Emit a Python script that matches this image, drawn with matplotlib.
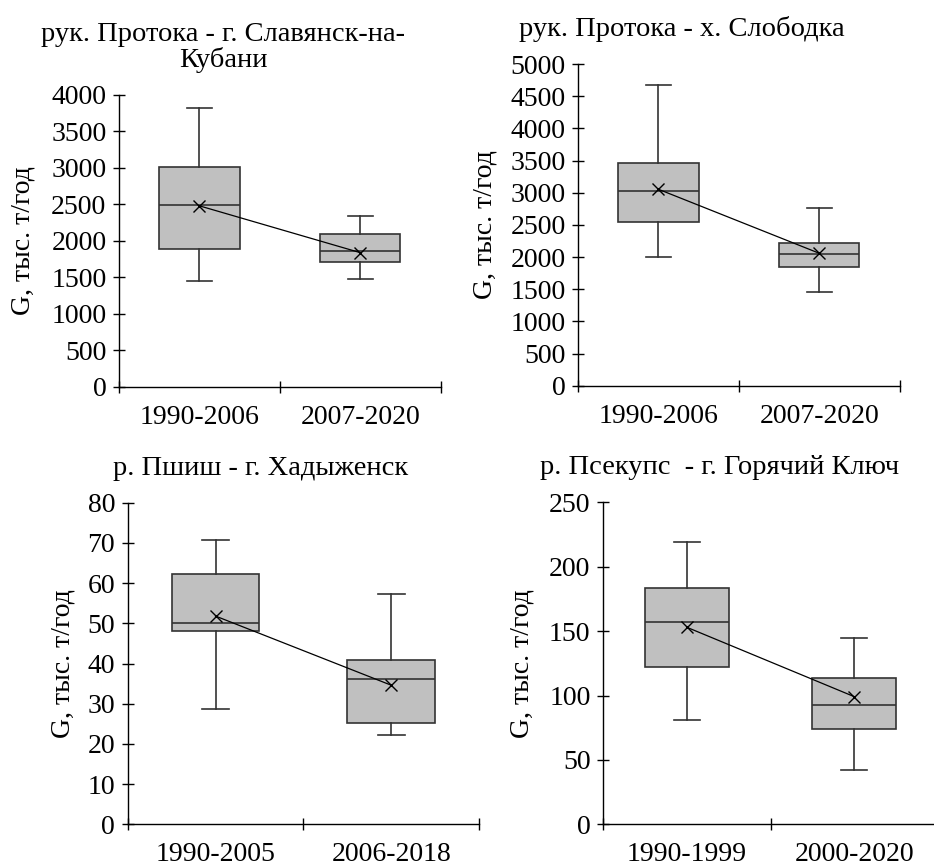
import matplotlib
matplotlib.use("Agg")
from matplotlib import pyplot as plt
import numpy as np

plt.rcParams['font.family'] = ['Liberation Serif', 'DejaVu Serif']

# titles and period labels for each panel
titles = ["рук. Протока - г. Славянск-на-\nКубани",
          "рук. Протока - х. Слободка",
          "р. Пшиш - г. Хадыженск",
          "р. Псекупс  - г. Горячий Ключ"]
periods = [["1990-2006", "2007-2020"],
           ["1990-2006", "2007-2020"],
           ["1990-2005", "2006-2018"],
           ["1990-1999", "2000-2020"]]
ylabel = "G, тыс. т/год"

# box statistics (thousand t/year)
whis_lo = [[1450, 1473], [2005, 1461], [28.8, 22.1], [81, 41.9]]
q1 = [[1893, 1715], [2549, 1850], [48.0, 25.3], [121.9, 74]]
median = [[2488, 1857], [3027, 2047], [50.1, 36.1], [157.4, 92.9]]
q3 = [[3018, 2095], [3462, 2218], [62.2, 40.9], [183.2, 113.9]]
whis_hi = [[3827, 2346], [4674, 2762], [70.6, 57.2], [219.2, 144.7]]
mean = [[2480, 1838], [3053, 2058], [51.8, 34.6], [153, 99.1]]

ymax = [4000, 5000, 80, 250]
ystep = [500, 500, 10, 50]

# axes rectangles in pixels: left, top, right, bottom
W, H = 934, 861
rects = [(119, 95, 440.7, 386.7),
         (578, 64, 899.7, 385.7),
         (127.7, 502.7, 479, 824.3),
         (603, 502.3, 938, 824.3)]
title_x = [223, 681.5, 261, 720]
label_x = [23, 485, 63, 522]

FS = 20

fig = plt.figure(figsize=(W / 100, H / 100), dpi=100)

for i in range(4):
	l, t, r, b = rects[i]
	ax = fig.add_axes([l / W, (H - b) / H, (r - l) / W, (b - t) / H])

	stats = []
	for j in range(2):
		stats.append({"med": median[i][j], "q1": q1[i][j], "q3": q3[i][j],
		              "whislo": whis_lo[i][j], "whishi": whis_hi[i][j],
		              "mean": mean[i][j], "fliers": []})
	pos = [0.5, 1.5]
	ax.bxp(stats, positions=pos, widths=0.5, capwidths=0.155, patch_artist=True,
	       showmeans=False, showfliers=False,
	       boxprops=dict(facecolor="#c0c0c0", edgecolor="#333333", linewidth=1.2),
	       medianprops=dict(color="#333333", linewidth=1.2),
	       whiskerprops=dict(color="#333333", linewidth=1.2),
	       capprops=dict(color="#333333", linewidth=1.2),
	       manage_ticks=False)
	# means joined by a line
	ax.plot(pos, mean[i], color="black", linewidth=0.9, marker="x",
	        markersize=9, markeredgewidth=1.0, zorder=5)

	ax.set_xlim(0, 2)
	ax.set_ylim(0, ymax[i])
	ax.set_yticks(np.arange(0, ymax[i] + 1, ystep[i]))
	ax.set_xticks([0, 1, 2])
	ax.set_xticklabels([])
	ax.set_xticks(pos, minor=True)
	ax.set_xticklabels(periods[i], minor=True)
	ax.tick_params(axis="x", which="major", direction="inout", length=8, width=1)
	ax.tick_params(axis="x", which="minor", length=0, pad=13, labelsize=FS)
	ax.tick_params(axis="y", direction="inout", length=8, width=1, pad=5, labelsize=FS)
	for s in ["top", "right"]:
		ax.spines[s].set_visible(False)
	for s in ["left", "bottom"]:
		ax.spines[s].set_linewidth(1)

	ax.text((title_x[i] - l) / (r - l), 1 + 28 / (b - t), titles[i],
	        transform=ax.transAxes, ha="center", va="baseline", fontsize=FS + 0.5,
	        multialignment="center", linespacing=1.0)
	ax.text((label_x[i] - l) / (r - l), 0.5, ylabel, transform=ax.transAxes,
	        ha="center", va="center", rotation=90, fontsize=FS)

fig.savefig("out.png", dpi=100, facecolor="white")
